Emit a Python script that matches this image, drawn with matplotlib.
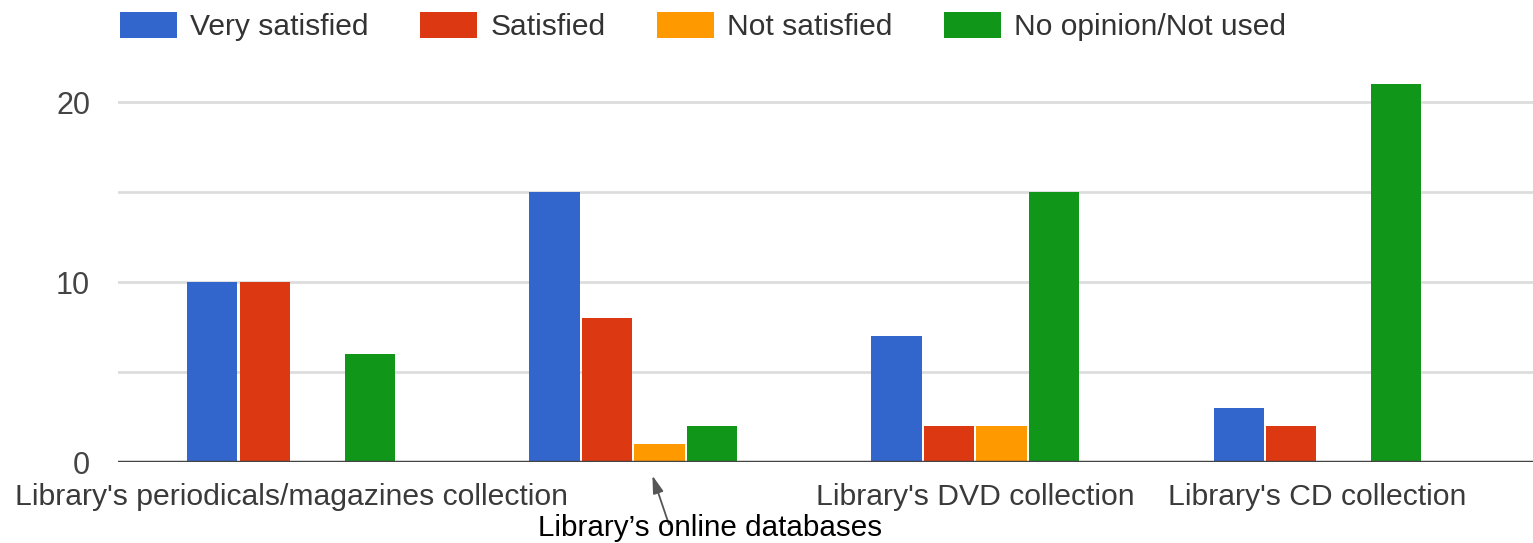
import matplotlib
matplotlib.use("Agg")
import matplotlib.pyplot as plt
from matplotlib.patches import Patch
import numpy as np

categories = ["Library's periodicals/magazines collection",
              "Library's online databases",
              "Library's DVD collection",
              "Library's CD collection"]
series_names = ["Very satisfied", "Satisfied", "Not satisfied", "No opinion/Not used"]
very_satisfied = [10, 15, 7, 3]
satisfied = [10, 8, 2, 2]
not_satisfied = [0, 1, 2, 0]
no_opinion = [6, 2, 15, 21]
colors = ["#3366cc", "#dc3912", "#ff9900", "#109618"]
tick_labels = ["Library's periodicals/magazines collection", "",
               "Library's DVD collection", "Library's CD collection"]
annotation_text = "Library\u2019s online databases"

plt.rcParams['font.family'] = ['Liberation Sans', 'DejaVu Sans']

W, H = 1533, 543
fig = plt.figure(figsize=(W/100, H/100), dpi=100)
ax = fig.add_axes([118/W, 1-462/H, (W-118)/W, (462-66)/H])

x = np.arange(len(categories))
pitch = 0.1535
width = 0.147
all_series = [very_satisfied, satisfied, not_satisfied, no_opinion]
for i, (vals, c) in enumerate(zip(all_series, colors)):
    ax.bar(x + (i-1.5)*pitch, vals, width=width, color=c, zorder=3, linewidth=0)

ax.set_xlim(-0.506, 3.63)
ax.set_ylim(0, 22)
ax.set_yticks([0, 10, 20])
ax.set_yticks([5, 15], minor=True)
ax.yaxis.grid(True, which='both', color='#dddddd', linewidth=2, zorder=0)
ax.axhline(0, color='#444444', linewidth=2.5, zorder=4)
for s in ax.spines.values():
    s.set_visible(False)
ax.tick_params(axis='y', which='both', length=0, pad=20, labelsize=22, labelcolor='#444444')
ax.set_xticks(x)
ax.set_xticklabels(tick_labels)
ax.tick_params(axis='x', length=0, pad=15, labelsize=21.7, labelcolor='#3a3a3a')

ax.annotate(annotation_text, xy=(1.056, -0.75), xycoords='data',
            xytext=(1.225, -3.65), textcoords='data',
            ha='center', va='center', fontsize=21.3, color='black',
            annotation_clip=False,
            arrowprops=dict(arrowstyle='-|>,head_length=0.5,head_width=0.15',
                            color='#555555', lw=1.3, relpos=(0.38, 0.62),
                            patchA=None, shrinkA=0, shrinkB=0))

handles = [Patch(facecolor=c, edgecolor='none') for c in colors]
fig.legend(handles, series_names, loc='upper left', bbox_to_anchor=(120/W, 1-12/H),
           ncol=4, frameon=False, fontsize=21.6, handlelength=1.9, handleheight=0.95,
           handletextpad=0.45, columnspacing=1.7, borderpad=0, borderaxespad=0,
           labelcolor='#333333')

fig.savefig("out.png", dpi=100)
